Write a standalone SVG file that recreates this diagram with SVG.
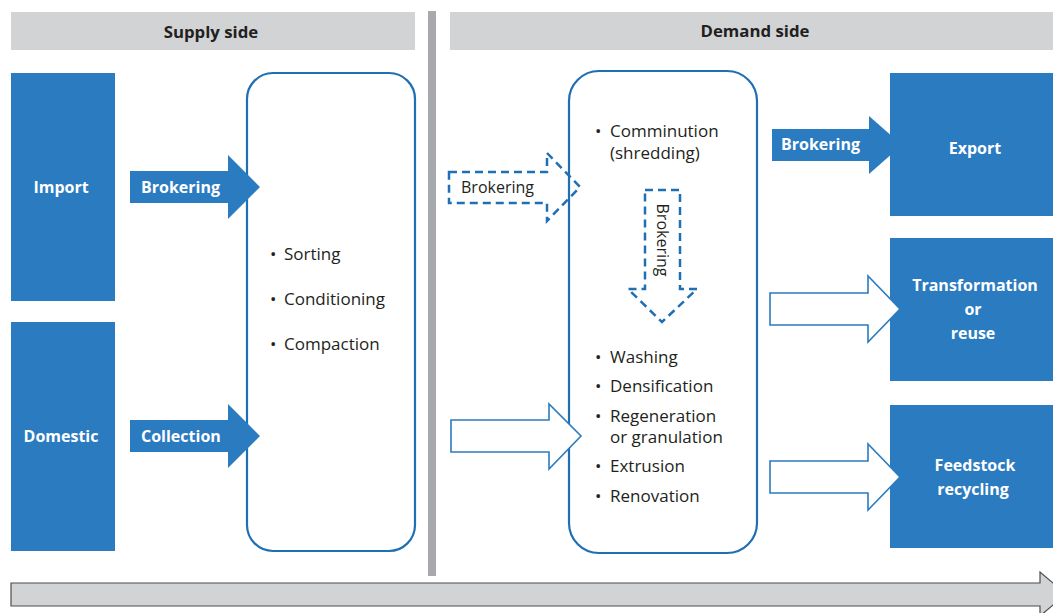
<svg xmlns="http://www.w3.org/2000/svg" width="1053" height="613" viewBox="0 0 1053 613">
<style>
.hdr{fill:#d1d3d4}
.box{fill:#2b7bc0}
.rbox{fill:#fff;stroke:#1f6fb4;stroke-width:2.2}
.t{font-family:"Open Sans","Noto Sans",sans-serif;font-size:16px;fill:#231f20}
.l{font-size:17px}
.h{font-size:16.8px}
.b{font-weight:bold}
.w{fill:#fff;font-weight:bold}
.m{text-anchor:middle}
.sa{fill:#2b7bc0}
.oa{fill:#fff;stroke:#2b7bc0;stroke-width:1.6}
.da{fill:none;stroke:#1f6fb4;stroke-width:2.5;stroke-dasharray:8,5}
</style>
<rect width="1053" height="613" fill="#fff"/>
<g id="headers">
<rect class="hdr" x="11" y="12" width="404" height="38"/>
<rect class="hdr" x="450" y="12" width="603" height="38"/>
<text class="t h b m" x="211" y="38">Supply side</text>
<text class="t h b m" x="755" y="37">Demand side</text>
</g>
<rect id="divider" x="428" y="11" width="8" height="565" fill="#a7a9ac"/>
<g id="timeline">
<path d="M11,583 H1040 V572 L1066,594 L1040,616 V606 H11 Z" fill="#d1d3d4" stroke="#4d4d4f" stroke-width="1.2"/>
</g>
<g id="import">
<rect class="box" x="11" y="73" width="104" height="228"/>
<text class="t w m" x="61" y="193">Import</text>
</g>
<g id="domestic">
<rect class="box" x="11" y="322" width="104" height="229"/>
<text class="t w m" x="61" y="442">Domestic</text>
</g>
<g id="supply">
<rect class="rbox" x="247" y="73" width="168" height="478" rx="26"/>
<text class="t l" x="270" y="260">•<tspan x="284">Sorting</tspan></text>
<text class="t l" x="270" y="305">•<tspan x="284">Conditioning</tspan></text>
<text class="t l" x="270" y="350">•<tspan x="284">Compaction</tspan></text>
</g>
<g id="demand">
<rect class="rbox" x="569" y="71" width="188" height="482" rx="30"/>
<text class="t l" x="595" y="137">•<tspan x="610">Comminution</tspan></text>
<text class="t l" x="610" y="159">(shredding)</text>
<text class="t l" x="595" y="363">•<tspan x="610">Washing</tspan></text>
<text class="t l" x="595" y="392">•<tspan x="610">Densification</tspan></text>
<text class="t l" x="595" y="422">•<tspan x="610">Regeneration</tspan></text>
<text class="t l" x="610" y="443">or granulation</text>
<text class="t l" x="595" y="472">•<tspan x="610">Extrusion</tspan></text>
<text class="t l" x="595" y="502">•<tspan x="610">Renovation</tspan></text>
</g>
<g id="export">
<rect class="box" x="890" y="73" width="163" height="143"/>
<text class="t w m" x="975" y="154">Export</text>
</g>
<g id="transformation">
<rect class="box" x="890" y="238" width="163" height="143"/>
<text class="t w m" x="975" y="291">Transformation</text>
<text class="t w m" x="973" y="315">or</text>
<text class="t w m" x="973" y="339">reuse</text>
</g>
<g id="feedstock">
<rect class="box" x="890" y="405" width="163" height="143"/>
<text class="t w m" x="975" y="471">Feedstock</text>
<text class="t w m" x="973" y="495">recycling</text>
</g>
<g id="connectors">
<path class="sa" d="M130,171 H228 V155 L260,187 L228,219 V203 H130 Z"/>
<text class="t w" x="141" y="193">Brokering</text>
<path class="sa" d="M130,420 H228 V404 L260,436 L228,468 V452 H130 Z"/>
<text class="t w" x="141" y="442">Collection</text>
<path class="da" d="M449,172 H547 V153 L580,187 L547,221 V203 H449 Z"/>
<text class="t" x="461" y="193">Brokering</text>
<path class="da" d="M645,190 H680 V289 H697 L662,322 L628,289 H645 Z"/>
<text class="t" transform="translate(657,240) rotate(90)" text-anchor="middle">Brokering</text>
<path class="oa" d="M451,420 H549 V404 L581,436 L549,469 V452 H451 Z"/>
<path class="sa" d="M772,129 H869 V116 L902,145 L869,174 V161 H772 Z"/>
<text class="t w" x="781" y="150">Brokering</text>
<path class="oa" d="M770,293 H868 V276 L900,309 L868,342 V325 H770 Z"/>
<path class="oa" d="M770,461 H868 V444 L900,477 L868,510 V493 H770 Z"/>
</g>
</svg>
